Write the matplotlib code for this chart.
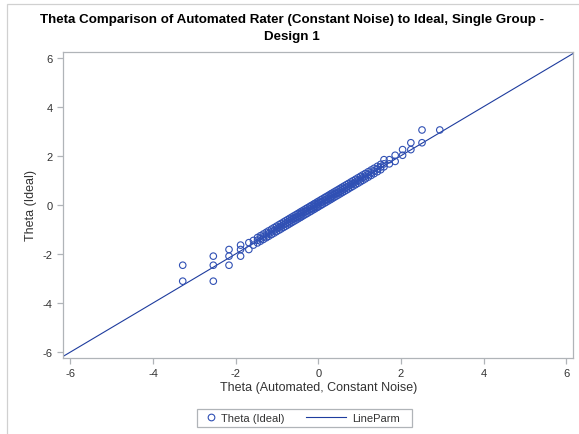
import matplotlib
matplotlib.use("Agg")
import matplotlib.pyplot as plt
from matplotlib.patches import Rectangle
from matplotlib.lines import Line2D

plt.rcParams["font.family"] = ["Liberation Sans", "DejaVu Sans"]
plt.rcParams["axes.unicode_minus"] = False

# --- data (theta estimates) ---
# tails, where points spread away from the identity line
tail_auto = [-3.28, -3.28, -2.54, -2.54, -2.54, -2.16, -2.16, -2.16,
             -1.88, -1.88, -1.88, -1.68, -1.68, -1.57, -1.57,
             1.59, 1.59, 1.59, 1.72, 1.72, 1.86, 1.86,
             2.04, 2.04, 2.24, 2.24, 2.51, 2.51, 2.94]
tail_ideal = [-2.46, -3.11, -2.09, -2.46, -3.11, -1.82, -2.09, -2.46,
              -1.64, -1.82, -2.09, -1.54, -1.82, -1.45, -1.64,
              1.84, 1.67, 1.55, 1.84, 1.67, 2.02, 1.77,
              2.25, 2.02, 2.53, 2.25, 3.05, 2.53, 3.05]

# dense middle band: three rows of points per automated value
mid_auto = [-1.47, -1.40, -1.33, -1.26, -1.20, -1.13, -1.07, -1.01, -0.95, -0.90,
            -0.84, -0.79, -0.74, -0.69, -0.64, -0.59, -0.54, -0.49, -0.44, -0.40,
            -0.35, -0.30, -0.26, -0.21, -0.17, -0.12, -0.08, -0.03, 0.01, 0.06,
            0.10, 0.15, 0.19, 0.24, 0.29, 0.33, 0.38, 0.43, 0.48, 0.53,
            0.58, 0.63, 0.68, 0.73, 0.79, 0.84, 0.90, 0.96, 1.02, 1.08,
            1.14, 1.21, 1.28, 1.35, 1.43, 1.51]
mid_ideal_upper = [-1.33, -1.26, -1.19, -1.12, -1.06, -0.99, -0.93, -0.87, -0.81, -0.76,
                   -0.70, -0.65, -0.60, -0.55, -0.50, -0.45, -0.40, -0.35, -0.30, -0.26,
                   -0.21, -0.16, -0.12, -0.07, -0.03, 0.02, 0.06, 0.11, 0.15, 0.20,
                   0.24, 0.29, 0.33, 0.38, 0.43, 0.47, 0.52, 0.57, 0.62, 0.67,
                   0.72, 0.77, 0.82, 0.87, 0.93, 0.98, 1.04, 1.10, 1.16, 1.22,
                   1.28, 1.35, 1.42, 1.49, 1.57, 1.65]
mid_ideal_center = [-1.44, -1.37, -1.30, -1.23, -1.17, -1.10, -1.04, -0.98, -0.92, -0.87,
                    -0.81, -0.76, -0.71, -0.66, -0.61, -0.56, -0.51, -0.46, -0.41, -0.37,
                    -0.32, -0.27, -0.23, -0.18, -0.14, -0.09, -0.05, 0.00, 0.04, 0.09,
                    0.13, 0.18, 0.22, 0.27, 0.32, 0.36, 0.41, 0.46, 0.51, 0.56,
                    0.61, 0.66, 0.71, 0.76, 0.82, 0.87, 0.93, 0.99, 1.05, 1.11,
                    1.17, 1.24, 1.31, 1.38, 1.46, 1.54]
mid_ideal_lower = [-1.55, -1.48, -1.41, -1.34, -1.28, -1.21, -1.15, -1.09, -1.03, -0.98,
                   -0.92, -0.87, -0.82, -0.77, -0.72, -0.67, -0.62, -0.57, -0.52, -0.48,
                   -0.43, -0.38, -0.34, -0.29, -0.25, -0.20, -0.16, -0.11, -0.07, -0.02,
                   0.02, 0.07, 0.11, 0.16, 0.21, 0.25, 0.30, 0.35, 0.40, 0.45,
                   0.50, 0.55, 0.60, 0.65, 0.71, 0.76, 0.82, 0.88, 0.94, 1.00,
                   1.06, 1.13, 1.20, 1.27, 1.35, 1.43]

theta_auto = tail_auto + mid_auto + mid_auto + mid_auto
theta_ideal = tail_ideal + mid_ideal_upper + mid_ideal_center + mid_ideal_lower

line_x = [-6.17, 6.17]   # LineParm: y = x
line_y = [-6.17, 6.17]
ticks = [-6, -4, -2, 0, 2, 4, 6]

mark_col = "#3050B4"
line_col = "#1E3C9E"
gray = "#B0B4B8"
txt = "#333333"

fig = plt.figure(figsize=(5.79, 4.35), dpi=100)
ax = fig.add_axes([0.1093, 0.1747, 0.8808, 0.7042])

ax.plot(line_x, line_y, color=line_col, lw=0.8, zorder=2)
ax.scatter(theta_auto, theta_ideal, s=22, facecolors="none",
           edgecolors=mark_col, linewidths=0.8, zorder=3)

ax.set_xlim(-6.17, 6.17)
ax.set_ylim(-6.24, 6.24)
ax.set_xticks(ticks)
ax.set_yticks(ticks)
for s in ax.spines.values():
    s.set_color(gray)
    s.set_linewidth(0.9)
ax.tick_params(colors=gray, labelcolor=txt, labelsize=8, length=4, width=0.9)
ax.set_xlabel("Theta (Automated, Constant Noise)", fontsize=9, color=txt, labelpad=2)
ax.set_ylabel("Theta (Ideal)", fontsize=9, color=txt, labelpad=4)

fig.text(292 / 579, 1 - 20 / 435,
         "Theta Comparison of Automated Rater (Constant Noise) to Ideal, Single Group -",
         ha="center", va="center", fontsize=9.6, fontweight="bold", color="black")
fig.text(292 / 579, 1 - 37 / 435, "Design 1",
         ha="center", va="center", fontsize=9.6, fontweight="bold", color="black")

# legend: two frameless parts inside one box
mk = Line2D([], [], ls="none", marker="o", mfc="none", mec=mark_col, ms=4.8, mew=0.8)
ln = Line2D([], [], color=line_col, lw=0.8)
common = dict(loc="center", ncol=1, fontsize=8, frameon=False, borderpad=0.2,
              handletextpad=0.5, borderaxespad=0)
leg1 = fig.legend([mk], ["Theta (Ideal)"], handlelength=0.8,
                  bbox_to_anchor=(246 / 579, 1 - 419 / 435), **common)
leg2 = fig.legend([ln], ["LineParm"], handlelength=3.6,
                  bbox_to_anchor=(353 / 579, 1 - 419 / 435), **common)
for lg in (leg1, leg2):
    for t in lg.get_texts():
        t.set_color(txt)
fig.patches.append(Rectangle((197 / 579, 1 - 428 / 435), 215 / 579, 18 / 435,
                             transform=fig.transFigure, fill=False,
                             edgecolor=gray, lw=0.9))

# light frame around the graph
fig.patches.append(Rectangle((7 / 579, -0.1), 1.2, 1.1 - 5 / 435,
                             transform=fig.transFigure, fill=False,
                             edgecolor="#D0D0D0", lw=0.9))

fig.savefig("out.png", dpi=100)
